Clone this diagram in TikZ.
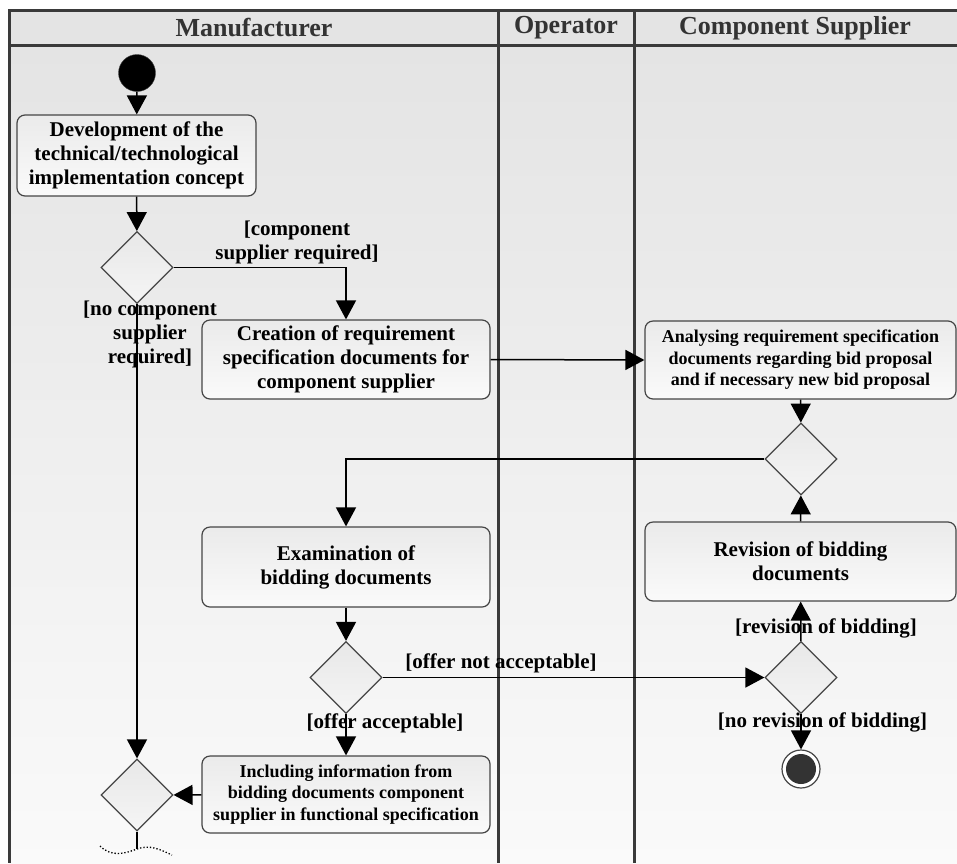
\documentclass[tikz,border=0pt]{standalone}
\usepackage{fontspec}
\setmainfont{Liberation Serif}
\usetikzlibrary{arrows.meta,shapes.geometric}

\definecolor{lanegrey}{HTML}{3A3A3A}
\definecolor{headgrey}{HTML}{E4E4E4}
\definecolor{boxedge}{HTML}{454545}
\definecolor{endgrey}{HTML}{333333}

\begin{document}
\begin{tikzpicture}[x=1pt, y=-1pt,
    act/.style={draw=boxedge, line width=1.2pt, rounded corners=8pt,
      top color=white!92!black, bottom color=white!98!black,
      align=center, inner sep=0pt, font=\fontsize{21}{24}\selectfont\bfseries},
    smallact/.style={act, font=\fontsize{18}{21.5}\selectfont\bfseries},
    decision/.style={diamond, draw=boxedge, line width=1.2pt,
      top color=white!91!black, bottom color=white!96!black,
      minimum width=72pt, minimum height=72pt, inner sep=0pt},
    guard/.style={align=center, inner sep=0pt, font=\fontsize{21}{24}\selectfont\bfseries},
    lanehead/.style={text=endgrey, inner sep=0pt, font=\fontsize{26}{30}\selectfont\bfseries},
    flow/.style={line width=1.5pt, -{Triangle[length=19pt,width=20pt]}}]
    \useasboundingbox (0,0) rectangle (957,863);

    % swimlanes
    \fill[headgrey] (9,10) rectangle (957,45);
    \shade[top color=headgrey, bottom color=white!98!black] (9,45) rectangle (957,863);
    \draw[lanegrey, line width=3pt] (957,10) -- (9,10) -- (9,863);
    \draw[lanegrey, line width=3pt] (9,45) -- (957,45);
    \draw[lanegrey, line width=3pt] (498,10) -- (498,863);
    \draw[lanegrey, line width=3pt] (634,10) -- (634,863);
    \node[lanehead] (hman) at (254,28) {Manufacturer};
    \node[lanehead] (hop) at (566,28) {Operator};
    \node[lanehead] (hsup) at (795,28) {Component Supplier};

    \node[circle, fill=black, draw=boxedge, minimum size=37pt, inner sep=0pt] (start) at (137,73) {};

    \node[act, minimum width=239pt, minimum height=81pt] (dev) at (136.5,155.5)
      {Development of the\\technical/technological\\implementation concept};
    \node[decision] (d1) at (137,267.5) {};
    \node[act, minimum width=288pt, minimum height=79pt] (crea) at (346,359.5)
      {Creation of requirement\\specification documents for\\component supplier};
    \node[smallact, minimum width=311pt, minimum height=78pt] (anly) at (800.5,360)
      {Analysing requirement specification\\documents regarding bid proposal\\and if necessary new bid proposal};
    \node[decision] (d2) at (801,459) {};
    \node[act, minimum width=288pt, minimum height=80pt] (exam) at (346,567)
      {Examination of\\bidding documents};
    \node[act, minimum width=311pt, minimum height=79pt] (rev) at (800.5,561.5)
      {Revision of bidding\\documents};
    \node[decision] (d3) at (346,677.5) {};
    \node[decision] (d4) at (801,677.5) {};
    \node[circle, draw=boxedge, line width=1.2pt, fill=white, minimum size=38pt, inner sep=0pt,
      path picture={\fill[endgrey] (path picture bounding box.center) circle (15pt);}] (final) at (801,769) {};
    \node[smallact, minimum width=288pt, minimum height=77pt] (incl) at (346,794.5)
      {Including information from\\bidding documents component\\supplier in functional specification};
    \node[decision] (merge) at (137,795) {};
    \coordinate (cut) at (137,849);

    \node[guard] (gcomp) at (297,242.5) {[component\\supplier required]};
    \node[guard] (gnocomp) at (150,334) {[no component\\supplier\\required]};
    \node[guard] (gnotacc) at (501,663.5) {[offer not acceptable]};
    \node[guard] (gacc) at (385,723) {[offer acceptable]};
    \node[guard] (grev) at (826,628) {[revision of bidding]};
    \node[guard] (gnorev) at (822.5,722) {[no revision of bidding]};

    \draw[flow] (start) -- (dev);
    \draw[flow] (dev) -- (d1);
    \draw[flow] (d1.east) -| (crea.north);
    \draw[flow] (d1.south) -- (merge.north);
    \draw[flow] (crea.east) -- (anly.west);
    \draw[flow] (anly) -- (d2);
    \draw[flow] (d2.west) -| (exam.north);
    \draw[flow] (rev) -- (d2);
    \draw[flow] (exam) -- (d3);
    \draw[flow] (d3.east) -- (d4.west);
    \draw[flow] (d4) -- (rev);
    \draw[flow] (d4) -- (final);
    \draw[flow] (d3) -- (incl);
    \draw[flow] (incl) -- (merge);
    \draw[line width=1.5pt] (merge.south) -- (cut);
    \draw[dotted, line width=1.3pt] (100,846) .. controls (112,858) and (126,853) .. (cut)
      .. controls (150,844) and (161,850) .. (172,855);
\end{tikzpicture}
\end{document}
